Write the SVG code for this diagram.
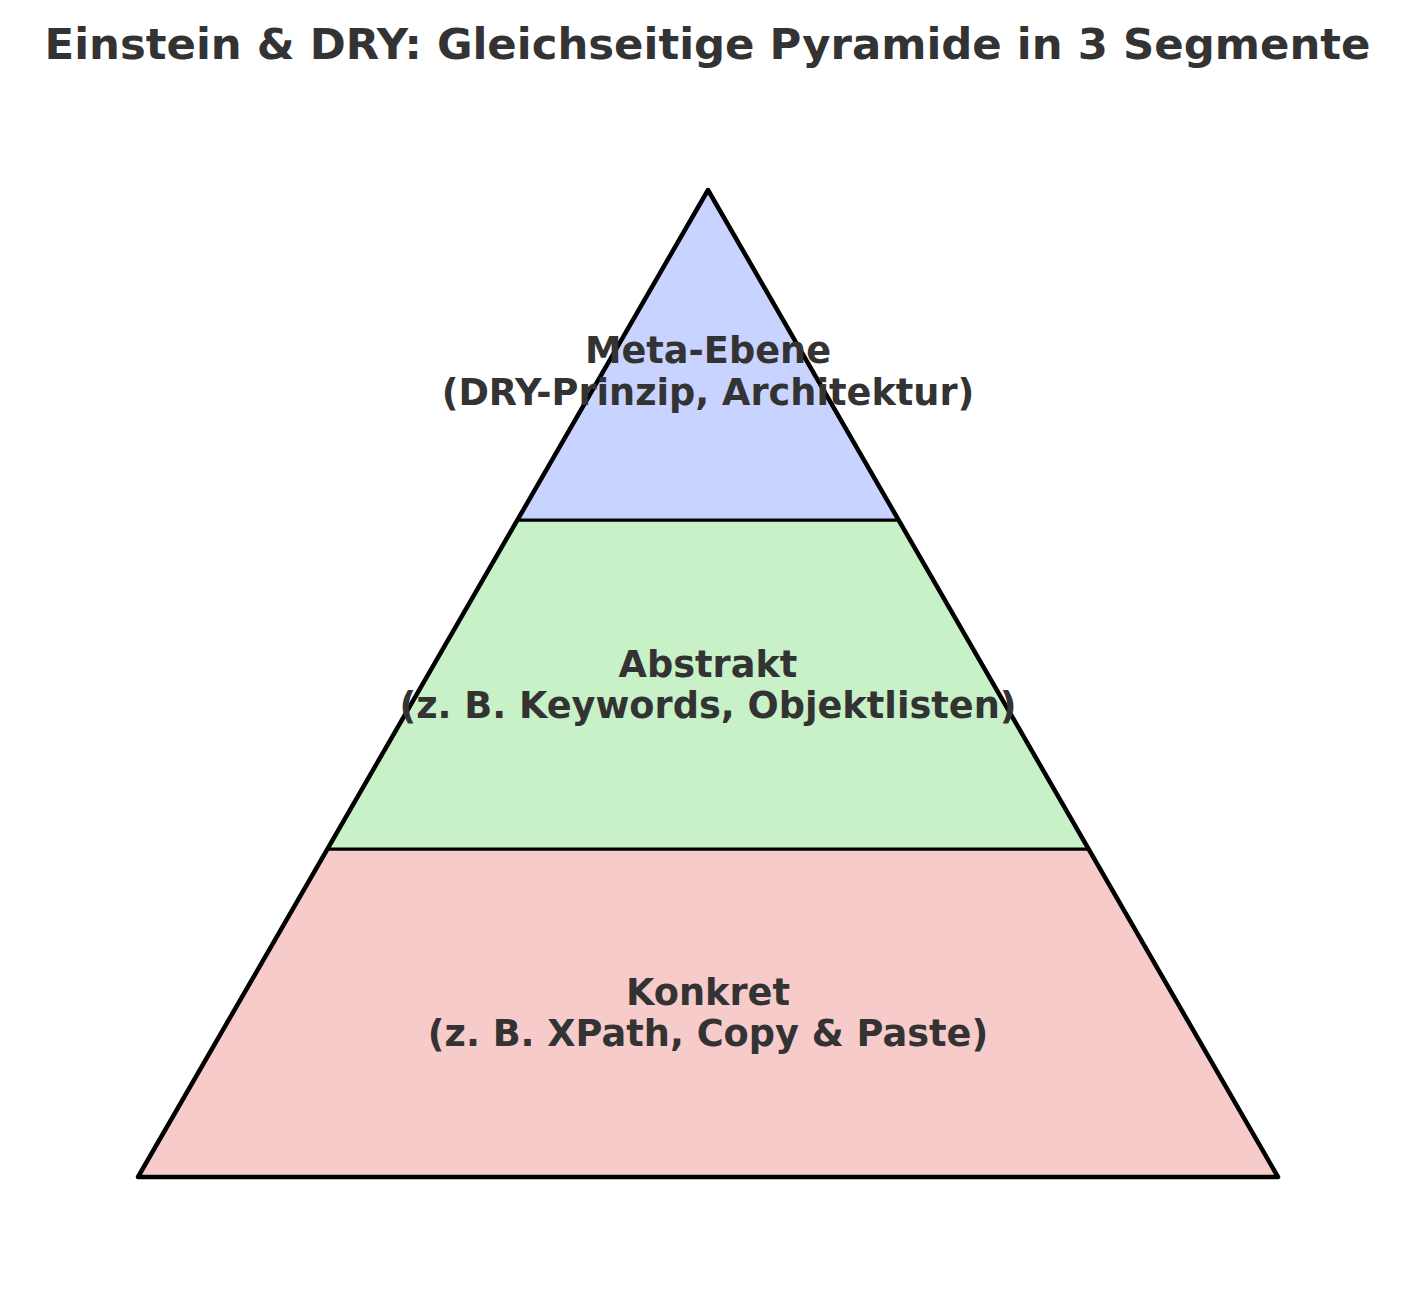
<svg xmlns="http://www.w3.org/2000/svg" width="1415" height="1316" viewBox="0 0 1415 1316">
<style>
text{font-family:"DejaVu Sans",sans-serif;font-weight:bold;fill:#333333;text-anchor:middle}
.t{font-size:43.4px}
.l{font-size:36.7px}
.seg{stroke:#000;stroke-width:3;stroke-linejoin:round}
</style>
<rect width="1415" height="1316" fill="#fff"/>
<text class="t" x="707.5" y="59">Einstein &amp; DRY: Gleichseitige Pyramide in 3 Segmente</text>
<g id="konkret">
<polygon class="seg" points="138,1177 1278,1177 1088.6,849 327.4,849" fill="#f8cbcb"/>
</g>
<g id="abstrakt">
<polygon class="seg" points="327.4,849 1088.6,849 898.6,520 517.4,520" fill="#c8f1c8"/>
</g>
<g id="meta">
<polygon class="seg" points="517.4,520 898.6,520 708,190" fill="#c8d3ff"/>
</g>
<g id="outline">
<polygon points="708,190 1278,1177 138,1177" fill="none" stroke="#000" stroke-width="4.5" stroke-linejoin="round"/>
</g>
<g id="labels">
<text class="l" x="708" y="363">Meta-Ebene</text>
<text class="l" x="708" y="405">(DRY-Prinzip, Architektur)</text>
<text class="l" x="708" y="677">Abstrakt</text>
<text class="l" x="708" y="718">(z. B. Keywords, Objektlisten)</text>
<text class="l" x="708" y="1005">Konkret</text>
<text class="l" x="708" y="1046">(z. B. XPath, Copy &amp; Paste)</text>
</g>
</svg>
